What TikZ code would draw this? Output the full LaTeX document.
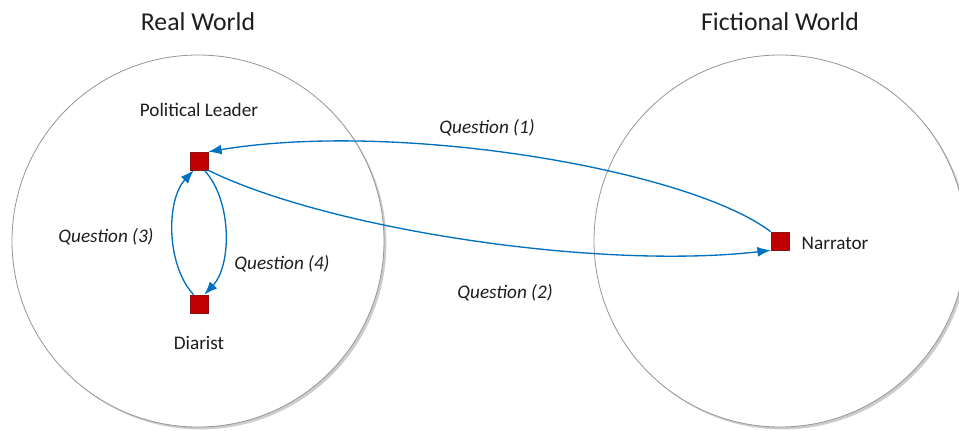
\documentclass[tikz,border=0pt]{standalone}
\usepackage{fontspec}
\setmainfont{Carlito}
\usetikzlibrary{arrows.meta,shadows}
\definecolor{qblue}{RGB}{0,112,192}
\definecolor{sqred}{RGB}{192,0,0}
\definecolor{sqborder}{RGB}{140,20,20}
\definecolor{ringgray}{RGB}{150,150,150}
\definecolor{txt}{RGB}{30,30,30}
\tikzset{
  world/.style={circle, draw=ringgray, line width=0.6pt, fill=white, minimum size=279pt, inner sep=0pt,
    drop shadow={opacity=0.4, shadow xshift=1.8pt, shadow yshift=-1.8pt, fill=gray}},
  actor/.style={rectangle, draw=sqborder, line width=0.4pt, fill=sqred, minimum size=13.5pt, inner sep=0pt},
  title/.style={text=txt, font=\fontsize{19.3}{23}\selectfont},
  lbl/.style={text=txt, font=\fontsize{14.4}{17}\selectfont},
  qlbl/.style={text=txt, font=\fontsize{14.4}{17}\selectfont\itshape},
  qarrow/.style={draw=qblue, line width=1pt, -{Latex[length=10pt,width=7.5pt]}},
}
\begin{document}
\begin{tikzpicture}[x=0.75pt,y=-0.75pt]
\clip (0,0) rectangle (959,430);
\useasboundingbox (0,0) rectangle (959,430);
\fill[white] (0,0) rectangle (959,430);

\node[world] (real) at (198,241) {};
\node[world] (fict) at (780,241) {};

\node[title] (realt) at (198,22) {Real World};
\node[title] (fictt) at (780,22) {Fictional World};

\node[actor] (pl) at (199,161) {};
\node[actor] (dia) at (199,304) {};
\node[actor] (nar) at (780,241) {};

\node[lbl] (plt) at (199,110) {Political Leader};
\node[lbl] (diat) at (199,343) {Diarist};
\node[lbl, anchor=west] (nart) at (797,243) {Narrator};

\node[qlbl] (q1) at (487,128) {Question (1)};
\node[qlbl] (q2) at (505,293) {Question (2)};
\node[qlbl] (q3) at (106,237) {Question (3)};
\node[qlbl] (q4) at (282,264) {Question (4)};

\draw[qarrow] (nar.north west) .. controls (690,170) and (400,120) .. (pl.north east);
\draw[qarrow] (pl.south east) .. controls (330,230) and (600,270) .. (nar.south west);
\draw[qarrow] (dia.120) .. controls (166,265) and (166,200) .. (pl.-120);
\draw[qarrow] (pl.-60) .. controls (232,200) and (232,265) .. (dia.60);
\end{tikzpicture}
\end{document}
